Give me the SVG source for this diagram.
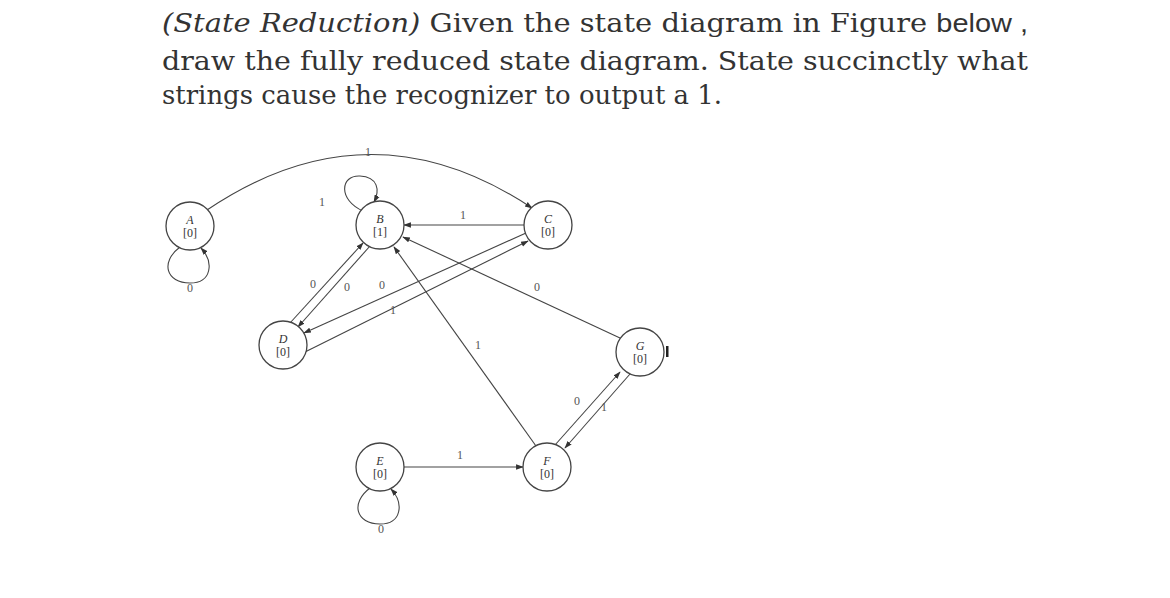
<svg xmlns="http://www.w3.org/2000/svg" width="1170" height="598" viewBox="0 0 1170 598">
<style>
.h{font-family:"DejaVu Serif",serif;font-size:26px;fill:#333}
.n{fill:#fff;stroke:#444;stroke-width:1.3}
.nl{font-family:"Liberation Serif",serif;font-size:12px;fill:#333;text-anchor:middle}
.e{fill:none;stroke:#444;stroke-width:1.1;marker-end:url(#ar)}
.l{font-family:"Liberation Serif",serif;font-size:12px;fill:#555;text-anchor:middle}
</style>
<defs><marker id="ar" viewBox="0 0 10 10" refX="9" refY="5" markerWidth="7" markerHeight="7" orient="auto"><path d="M0,1.5L10,5L0,8.5z" fill="#333"/></marker></defs>
<rect width="1170" height="598" fill="#fff"/>
<text class="h" x="162" y="32" textLength="866" lengthAdjust="spacingAndGlyphs"><tspan font-style="italic">(State Reduction)</tspan>  Given the state diagram in Figure <tspan font-family="Liberation Sans,sans-serif">below ,</tspan></text>
<text class="h" x="162" y="70" textLength="866" lengthAdjust="spacingAndGlyphs">draw the fully reduced state diagram. State succinctly what</text>
<text class="h" x="162" y="104" textLength="560" lengthAdjust="spacingAndGlyphs">strings cause the recognizer to output a 1.</text>
<g id="edges">
<path class="e" d="M207,210 Q370,100 532,208"/><text class="l" x="368" y="156">1</text>
<path class="e" d="M180,247 C160,262 166,283 190,283 C212,283 214,262 201,248"/><text class="l" x="190" y="292">0</text>
<path class="e" d="M363,211 C338,200 340,175 360,176 C378,177 380,190 374,202"/><text class="l" x="322" y="206">1</text>
<path class="e" d="M525,225 L404,225"/><text class="l" x="463" y="219">1</text>
<path class="e" d="M290,323 L363,243"/><text class="l" x="313" y="288">0</text>
<path class="e" d="M370,246 L298,327"/><text class="l" x="347" y="291">0</text>
<path class="e" d="M526,233 L304,333"/><text class="l" x="382" y="289">0</text>
<path class="e" d="M305,352 L528,241"/><text class="l" x="393" y="314">1</text>
<path class="e" d="M620,338 L403,237"/><text class="l" x="537" y="291">0</text>
<path class="e" d="M536,446 L394,247"/><text class="l" x="478" y="349">1</text>
<path class="e" d="M555,445 L620,372"/><text class="l" x="577" y="405">0</text>
<path class="e" d="M630,374 L565,448"/><text class="l" x="604" y="411">1</text>
<path class="e" d="M403,467 L523,467"/><text class="l" x="460" y="459">1</text>
<path class="e" d="M370,488 C350,503 356,524 380,524 C402,524 404,503 391,489"/><text class="l" x="381" y="533">0</text>
</g>
<g id="A"><circle class="n" cx="190" cy="226" r="24"/><text class="nl" x="190" y="224" font-style="italic">A</text><text class="nl" x="190" y="237">[0]</text></g>
<g id="B"><circle class="n" cx="380" cy="225" r="24"/><text class="nl" x="380" y="223" font-style="italic">B</text><text class="nl" x="380" y="236">[1]</text></g>
<g id="C"><circle class="n" cx="548" cy="225" r="24"/><text class="nl" x="548" y="223" font-style="italic">C</text><text class="nl" x="548" y="236">[0]</text></g>
<g id="D"><circle class="n" cx="283" cy="345" r="24"/><text class="nl" x="283" y="343" font-style="italic">D</text><text class="nl" x="283" y="356">[0]</text></g>
<g id="G"><circle class="n" cx="640" cy="352" r="24"/><text class="nl" x="640" y="350" font-style="italic">G</text><text class="nl" x="640" y="363">[0]</text><rect x="666" y="346" width="2.5" height="11" fill="#222"/></g>
<g id="E"><circle class="n" cx="380" cy="467" r="24"/><text class="nl" x="380" y="465" font-style="italic">E</text><text class="nl" x="380" y="478">[0]</text></g>
<g id="F"><circle class="n" cx="547" cy="467" r="24"/><text class="nl" x="547" y="465" font-style="italic">F</text><text class="nl" x="547" y="478">[0]</text></g>
</svg>
